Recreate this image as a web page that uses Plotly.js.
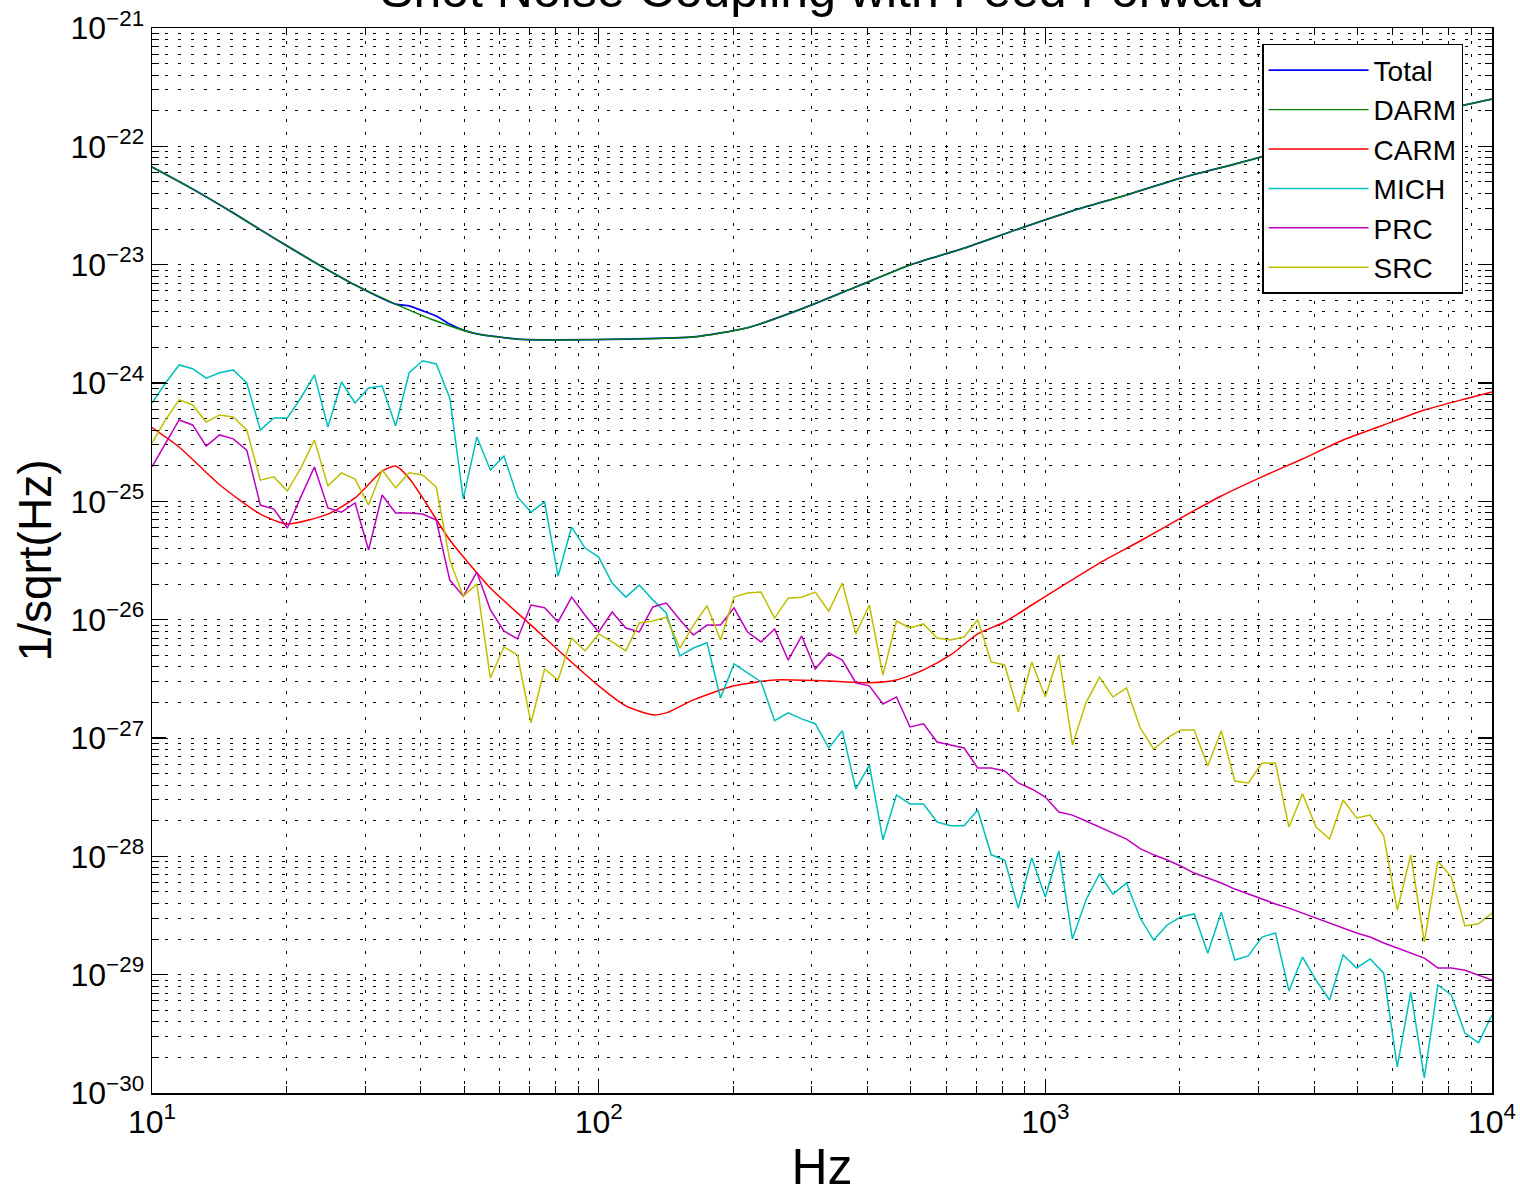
<!DOCTYPE html>
<html>
<head>
<meta charset="utf-8">
<script src="https://cdn.plot.ly/plotly-3.0.1.min.js"></script>
<style>html,body{margin:0;padding:0;background:#fff;}#chart{width:1520px;height:1195px;}</style>
</head>
<body>
<div id="chart"></div>
<script>
// Frequency grid (Hz) of the sampled noise curves
const freq = [10,10.72,11.50,12.33,13.22,14.17,15.20,16.30,17.48,18.74,20.09,21.54,23.10,24.77,26.56,28.48,30.54,32.75,35.11,37.65,
40.37,43.29,46.42,49.77,53.37,57.22,61.36,65.79,70.55,75.65,81.11,86.97,93.26,100.0,107.2,115.0,123.3,132.2,141.7,152.0,
163.0,174.8,187.4,200.9,215.4,231.0,247.7,265.6,284.8,305.4,327.5,351.1,376.5,403.7,432.9,464.2,497.7,533.7,572.2,613.6,
657.9,705.5,756.5,811.1,869.7,932.6,1000,1072,1150,1233,1322,1417,1520,1630,1748,1874,2009,2154,2310,2477,
2656,2848,3054,3275,3511,3765,4037,4329,4642,4977,5337,5722,6136,6579,7055,7565,8111,8697,9326,10000];

const mich = [6.78e-25,1.0e-24,1.42e-24,1.32e-24,1.10e-24,1.22e-24,1.29e-24,1.0e-24,4.0e-25,5.06e-25,
5.06e-25,7.47e-25,1.17e-24,4.25e-25,1.02e-24,6.78e-25,9.07e-25,9.43e-25,4.33e-25,1.22e-24,
1.54e-24,1.45e-24,7.47e-25,1.05e-25,3.50e-25,1.84e-25,2.41e-25,1.09e-25,8.1e-26,9.9e-26,
2.33e-26,6.06e-26,4.03e-26,3.38e-26,2.04e-26,1.55e-26,1.96e-26,1.47e-26,1.14e-26,4.94e-27,
5.76e-27,6.37e-27,2.18e-27,4.23e-27,3.55e-27,2.98e-27,1.40e-27,1.63e-27,1.45e-27,1.32e-27,
8.23e-28,1.15e-27,3.71e-28,5.91e-28,1.38e-28,3.30e-28,2.77e-28,2.77e-28,1.95e-28,1.81e-28,
1.81e-28,2.46e-28,1.03e-28,9.3e-29,3.65e-29,9.7e-29,4.53e-29,1.11e-28,2.0e-29,4.28e-29,
7.09e-29,4.80e-29,5.95e-29,3.01e-29,1.96e-29,2.63e-29,3.07e-29,3.26e-29,1.52e-29,3.38e-29,
1.33e-29,1.44e-29,2.08e-29,2.25e-29,7.29e-30,1.41e-29,9.0e-30,6.11e-30,1.47e-29,1.14e-29,
1.36e-29,1.03e-29,1.66e-30,7.14e-30,1.34e-30,8.18e-30,6.74e-30,3.21e-30,2.65e-30,4.56e-30];

const prc = [1.96e-25,3.11e-25,4.87e-25,4.42e-25,2.93e-25,3.64e-25,3.37e-25,2.71e-25,9.3e-26,8.6e-26,
5.95e-26,1.09e-25,1.95e-25,8.78e-26,8.1e-26,9.7e-26,3.88e-26,1.13e-25,7.96e-26,7.96e-26,
7.8e-26,6.95e-26,2.16e-26,1.58e-26,2.52e-26,1.21e-26,8.03e-27,6.87e-27,1.33e-26,1.26e-26,
9.56e-27,1.55e-26,1.09e-26,7.87e-27,1.16e-26,8.5e-27,7.87e-27,1.28e-26,1.38e-26,1.0e-26,
7.42e-27,9.0e-27,9.0e-27,1.26e-26,7.87e-27,6.48e-27,8.35e-27,4.56e-27,7.29e-27,3.83e-27,
5.23e-27,4.56e-27,2.93e-27,2.76e-27,1.94e-27,2.22e-27,1.24e-27,1.32e-27,9.25e-28,8.73e-28,
8.23e-28,5.58e-28,5.58e-28,5.26e-28,4.17e-28,3.71e-28,3.17e-28,2.37e-28,2.23e-28,1.99e-28,
1.77e-28,1.57e-28,1.40e-28,1.16e-28,1.03e-28,9.3e-29,8.28e-29,7.22e-29,6.55e-29,5.95e-29,
5.29e-29,4.80e-29,4.36e-29,3.96e-29,3.65e-29,3.32e-29,3.01e-29,2.74e-29,2.48e-29,2.25e-29,
2.08e-29,1.85e-29,1.68e-29,1.52e-29,1.38e-29,1.14e-29,1.14e-29,1.09e-29,9.9e-30,9.0e-30];

const src = [3.11e-25,4.87e-25,7.2e-25,6.52e-25,4.68e-25,5.37e-25,5.16e-25,4.01e-25,1.51e-25,1.61e-25,
1.22e-25,1.91e-25,3.30e-25,1.35e-25,1.74e-25,1.54e-25,9.3e-26,1.84e-25,1.30e-25,1.74e-25,
1.67e-25,1.32e-25,3.19e-26,1.58e-26,2.0e-26,3.21e-27,5.88e-27,5.03e-27,1.34e-27,3.83e-27,
3.09e-27,7.0e-27,5.44e-27,7.57e-27,6.48e-27,5.44e-27,9.38e-27,9.75e-27,1.05e-26,5.76e-27,
9.0e-27,1.31e-26,6.74e-27,1.55e-26,1.68e-26,1.71e-26,1.03e-26,1.52e-26,1.55e-26,1.71e-26,
1.18e-26,2.04e-26,7.57e-27,1.33e-26,3.40e-27,9.75e-27,8.5e-27,9.2e-27,7.0e-27,6.74e-27,
7.14e-27,1.0e-26,4.39e-27,4.14e-27,1.66e-27,4.39e-27,2.22e-27,5.03e-27,8.73e-28,1.98e-27,
3.27e-27,2.22e-27,2.65e-27,1.22e-27,8.07e-28,1.0e-27,1.17e-27,1.17e-27,5.80e-28,1.15e-27,
4.33e-28,4.17e-28,6.15e-28,6.15e-28,1.77e-28,3.37e-28,1.77e-28,1.40e-28,2.99e-28,2.11e-28,
2.23e-28,1.49e-28,3.52e-29,1.03e-28,1.88e-29,9.1e-29,6.69e-29,2.58e-29,2.69e-29,3.32e-29];

// Smooth curves, read at a subset of the frequency grid
const carmFreq = [10,11.50,14.17,17.48,20.09,24.77,28.48,32.75,35.11,37.65,40.37,46.42,57.22,70.55,81.11,100.0,115.0,132.2,141.7,163.0,
200.9,247.7,327.5,403.7,464.2,533.7,613.6,705.5,811.1,932.6,1072,1322,1630,2009,2477,3054,3765,4642,5722,7055,8697,10000];
const carm = [4.2e-25,2.88e-25,1.38e-25,7.8e-26,6.43e-26,7.8e-26,1.07e-25,1.80e-25,1.99e-25,1.57e-25,1.07e-25,4.71e-26,1.85e-26,9.0e-27,5.54e-27,2.76e-27,1.87e-27,1.57e-27,1.63e-27,2.10e-27,
2.76e-27,3.09e-27,3.03e-27,2.93e-27,3.09e-27,3.76e-27,5.03e-27,7.57e-27,9.56e-27,1.33e-26,1.85e-26,3.01e-26,4.62e-26,7.22e-26,1.11e-25,1.61e-25,2.28e-25,3.30e-25,4.42e-25,5.91e-25,7.33e-25,8.39e-25];

const darmFreq = [10,12.33,15.20,18.74,23.10,28.48,35.11,43.29,53.37,65.79,81.11,115.0,163.0,215.4,284.8,376.5,497.7,657.9,869.7,1150,1520,2009,2656,3765,5337,7565,10000];
const darm = [6.69e-23,4.36e-23,2.74e-23,1.68e-23,1.05e-23,6.74e-24,4.65e-24,3.34e-24,2.60e-24,2.35e-24,2.31e-24,2.35e-24,2.45e-24,2.93e-24,4.23e-24,6.48e-24,9.94e-24,1.38e-23,2.0e-23,2.85e-23,3.88e-23,5.39e-23,7.09e-23,1.01e-22,1.41e-22,1.99e-22,2.51e-22];

const totalFreq = [10,12.33,15.20,18.74,23.10,28.48,35.11,37.65,40.37,43.29,46.42,49.77,53.37,65.79,81.11,115.0,163.0,215.4,284.8,376.5,497.7,657.9,869.7,1150,1520,2009,2656,3765,5337,7565,10000];
const total = [6.69e-23,4.36e-23,2.74e-23,1.68e-23,1.05e-23,6.74e-24,4.65e-24,4.48e-24,4.07e-24,3.68e-24,3.15e-24,2.80e-24,2.60e-24,2.35e-24,2.31e-24,2.35e-24,2.45e-24,2.93e-24,4.23e-24,6.48e-24,9.94e-24,1.38e-23,2.0e-23,2.85e-23,3.88e-23,5.39e-23,7.09e-23,1.01e-22,1.41e-22,1.99e-22,2.51e-22];

const seriesNames = ['Total','DARM','CARM','MICH','PRC','SRC'];
const seriesColors = ['#0000ff','#008000','#ff0000','#00bfbf','#bf00bf','#bfbf00'];

const xTickVals = [10,100,1000,10000];
const xTickText = ['10<sup>1</sup>','10<sup>2</sup>','10<sup>3</sup>','10<sup>4</sup>'];
const yTickVals = [1e-30,1e-29,1e-28,1e-27,1e-26,1e-25,1e-24,1e-23,1e-22,1e-21];
const yTickText = ['10<sup>−30</sup>','10<sup>−29</sup>','10<sup>−28</sup>','10<sup>−27</sup>','10<sup>−26</sup>','10<sup>−25</sup>','10<sup>−24</sup>','10<sup>−23</sup>','10<sup>−22</sup>','10<sup>−21</sup>'];

const xs = [totalFreq, darmFreq, carmFreq, freq, freq, freq];
const ys = [total, darm, carm, mich, prc, src];
const shapes = ['spline','spline','spline','linear','linear','linear'];
const widths = [1.8, 1.4, 1.5, 1.5, 1.5, 1.5];

const traces = seriesNames.map((n, k) => ({
  type: 'scatter', mode: 'lines', name: n, x: xs[k], y: ys[k],
  line: {color: seriesColors[k], width: widths[k], shape: shapes[k], smoothing: 0.6}
}));

const sans = 'Liberation Sans, Arial, sans-serif';
const gridDash = '3px,10px';
const axisCommon = {
  type: 'log', showline: true, linecolor: '#000', linewidth: 1.5, mirror: 'ticks',
  ticks: 'inside', ticklen: 14, tickwidth: 1.3, tickcolor: '#000',
  showgrid: true, gridcolor: '#000', gridwidth: 1, griddash: gridDash, zeroline: false,
  tickfont: {family: sans, size: 32, color: '#000'},
  minor: {dtick: 'D1', ticks: 'inside', ticklen: 7, tickwidth: 1, tickcolor: '#000',
          showgrid: true, gridcolor: '#000', gridwidth: 1, griddash: gridDash}
};

const layout = {
  width: 1520, height: 1195,
  paper_bgcolor: '#fff', plot_bgcolor: '#fff',
  margin: {l: 152, r: 28, t: 28, b: 102, pad: 0},
  showlegend: true,
  title: {text: 'Shot Noise Coupling with Feed Forward', font: {family: sans, size: 50, color: '#000'},
          x: 0.5, xref: 'paper', xanchor: 'center', y: 0.994, yref: 'container', yanchor: 'bottom'},
  xaxis: Object.assign({}, axisCommon, {
    range: [1, 4], tickmode: 'array', tickvals: xTickVals, ticktext: xTickText,
    title: {text: 'Hz', font: {family: sans, size: 50, color: '#000'}, standoff: 12}
  }),
  yaxis: Object.assign({}, axisCommon, {
    range: [-30, -21], tickmode: 'array', tickvals: yTickVals, ticktext: yTickText,
    title: {text: '1/sqrt(Hz)', font: {family: sans, size: 46, color: '#000'}, standoff: 4}
  }),
  legend: {
    x: 0.8284, y: 0.985, xanchor: 'left', yanchor: 'top',
    bgcolor: '#fff', bordercolor: '#000', borderwidth: 1.5,
    font: {family: sans, size: 28, color: '#000'},
    itemwidth: 100, tracegroupgap: 0
  }
};

Plotly.newPlot('chart', traces, layout, {displayModeBar: false, staticPlot: true});
</script>
</body>
</html>
